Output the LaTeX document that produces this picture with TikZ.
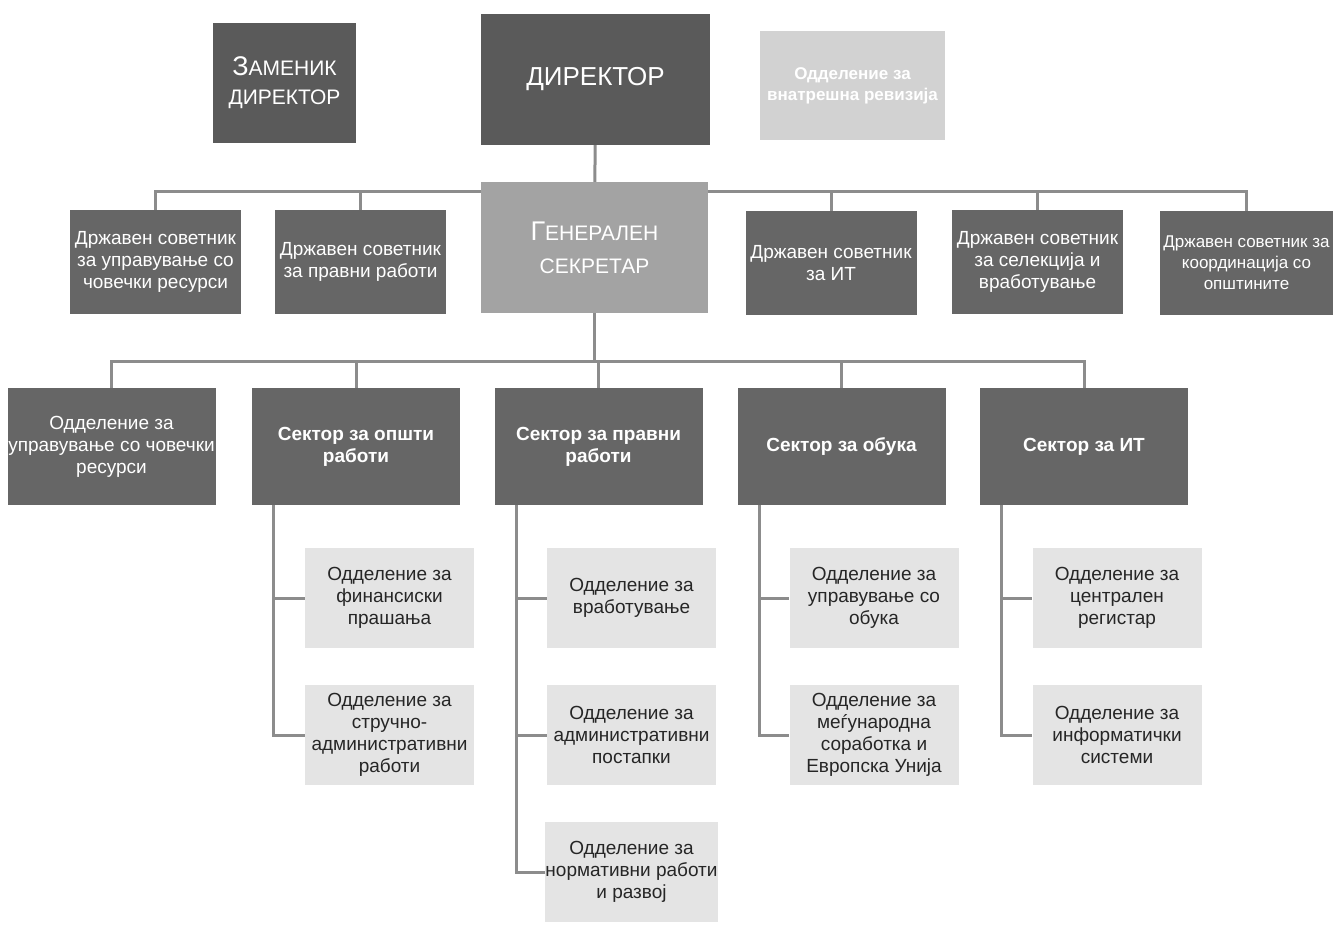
\documentclass[tikz,border=0pt]{standalone}
\usepackage{fontspec}
\setmainfont{Liberation Sans}
\usetikzlibrary{backgrounds}

\definecolor{boxdark}{HTML}{5A5A5A}
\definecolor{boxmid}{HTML}{666666}
\definecolor{boxgen}{HTML}{A3A3A3}
\definecolor{boxpale}{HTML}{D2D2D2}
\definecolor{boxlight}{HTML}{E4E4E4}
\definecolor{linkgray}{HTML}{8C8C8C}

\begin{document}
\begin{tikzpicture}[x=1pt, y=-1pt, align=center,
  box/.style={rectangle, inner sep=0pt, text=white, font=\fontsize{19}{22}\selectfont},
  topbox/.style={box, fill=boxdark},
  advbox/.style={box, fill=boxmid, minimum width=171pt, minimum height=104pt},
  secbox/.style={box, fill=boxmid, minimum width=208pt, minimum height=117pt},
  unitbox/.style={box, fill=boxlight, text=black!85, minimum width=169pt, minimum height=100pt},
  link/.style={draw=linkgray, line width=3pt}]

\useasboundingbox (0,0) rectangle (1333,926);

% top row
\path (284.5,83) node[topbox, minimum width=143pt, minimum height=120pt, font=\fontsize{21}{29}\selectfont] (deputy) {{\fontsize{27}{29}\selectfont З}АМЕНИК\\ДИРЕКТОР}
      (595.5,79.5) node[topbox, minimum width=229pt, minimum height=131pt, font=\fontsize{26}{30}\selectfont] (director) {ДИРЕКТОР}
      (852.5,85.5) node[box, fill=boxpale, minimum width=185pt, minimum height=109pt, font=\fontsize{17}{21}\bfseries] (audit) {Одделение за\\внатрешна ревизија};

% advisers and general secretary
\path (594.5,247.5) node[box, fill=boxgen, minimum width=227pt, minimum height=131pt, font=\fontsize{21}{33}\selectfont] (general) {{\fontsize{27}{33}\selectfont Г}ЕНЕРАЛЕН\\СЕКРЕТАР}
      (155.5,262) node[advbox] (adv1) {Државен советник\\за управување со\\човечки ресурси}
      (360.5,262) node[advbox] (adv2) {Државен советник\\за правни работи}
      (831,263) node[advbox] (adv3) {Државен советник\\за ИТ}
      (1037.5,262) node[advbox] (adv4) {Државен советник\\за селекција и\\вработување}
      (1246.5,263) node[advbox, minimum width=173pt, font=\fontsize{17}{21}\selectfont] (adv5) {Државен советник за\\координација со\\општините};

% sectors
\path (111.5,446.5) node[secbox] (hrunit) {Одделение за\\управување со човечки\\ресурси}
      (356,446.5) node[secbox, font=\fontsize{19}{22}\bfseries] (sec1) {Сектор за општи\\работи}
      (598.5,446.5) node[secbox, font=\fontsize{19}{22}\bfseries] (sec2) {Сектор за правни\\работи}
      (841.5,446.5) node[secbox, font=\fontsize{19}{22}\bfseries] (sec3) {Сектор за обука}
      (1084,446.5) node[secbox, font=\fontsize{19}{22}\bfseries] (sec4) {Сектор за ИТ};

% units
\path (389.5,598) node[unitbox] (fin) {Одделение за\\финансиски\\прашања}
      (389.5,735) node[unitbox] (adm) {Одделение за\\стручно-\\административни\\работи}
      (631.5,598) node[unitbox] (empl) {Одделение за\\вработување}
      (631.5,735) node[unitbox] (proc) {Одделение за\\административни\\постапки}
      (631.5,872) node[unitbox] (norm) {Одделение за\\нормативни работи\\и развој}
      (874,598) node[unitbox] (train) {Одделение за\\управување со\\обука}
      (874,735) node[unitbox] (intl) {Одделение за\\меѓународна\\соработка и\\Европска Унија}
      (1117,598) node[unitbox] (reg) {Одделение за\\централен\\регистар}
      (1117,735) node[unitbox] (info) {Одделение за\\информатички\\системи};

\begin{pgfonlayer}{background}
\draw[link] (director) -- (general);
\draw[link] (adv1.north) -- ++(0,-18) -| (adv5.north);
\foreach \n in {adv2,adv3,adv4}
  \draw[link] (\n.north) -- ++(0,-18);

\draw[link] (general.south) -- ++(0,49);
\draw[link] (hrunit.north) -- ++(0,-26) -| (sec4.north);
\foreach \n in {sec1,sec2,sec3}
  \draw[link] (\n.north) -- ++(0,-26);

\foreach \s/\u in {sec1/fin, sec1/adm, sec2/empl, sec2/proc, sec2/norm, sec3/train, sec3/intl, sec4/reg, sec4/info}
  \draw[link] ([xshift=22pt]\s.south west) |- (\u.west);
\end{pgfonlayer}
\end{tikzpicture}
\end{document}
